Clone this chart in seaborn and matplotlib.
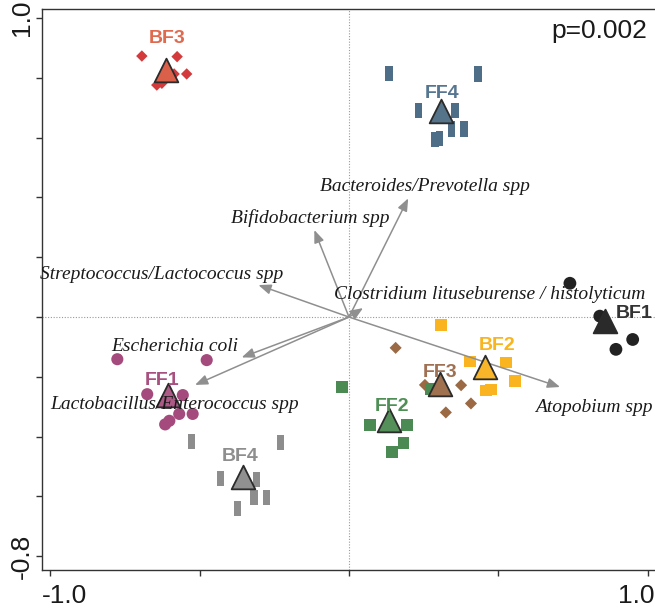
import numpy as np
import pandas as pd
import matplotlib
matplotlib.use("Agg")
import matplotlib.pyplot as plt
import matplotlib.transforms as mtransforms
import seaborn as sns

# ---------------- data ----------------
groups = ["BF3", "FF4", "BF1", "BF2", "FF3", "FF2", "FF1", "BF4"]

bf3_x = [-0.693, -0.575, -0.585, -0.543, -0.643, -0.626]
bf3_y = [0.873, 0.871, 0.813, 0.813, 0.776, 0.782]
ff4_x = [0.134, 0.432, 0.232, 0.355, 0.343, 0.385, 0.288, 0.302]
ff4_y = [0.815, 0.813, 0.692, 0.692, 0.629, 0.629, 0.595, 0.598]
bf1_x = [0.739, 0.949, 0.893, 0.839]
bf1_y = [0.113, -0.075, -0.108, 0.003]
bf2_x = [0.307, 0.405, 0.525, 0.555, 0.458, 0.475]
bf2_y = [-0.027, -0.149, -0.152, -0.213, -0.246, -0.242]
ff3_x = [0.156, 0.254, 0.375, 0.408, 0.324]
ff3_y = [-0.103, -0.227, -0.228, -0.289, -0.319]
ff2_x = [-0.023, 0.070, 0.193, 0.182, 0.143, 0.274]
ff2_y = [-0.234, -0.361, -0.361, -0.422, -0.451, -0.241]
ff1_x = [-0.775, -0.476, -0.675, -0.556, -0.568, -0.523, -0.615, -0.601]
ff1_y = [-0.141, -0.144, -0.258, -0.261, -0.324, -0.324, -0.359, -0.347]
bf4_x = [-0.526, -0.228, -0.429, -0.309, -0.318, -0.275, -0.374]
bf4_y = [-0.417, -0.420, -0.539, -0.543, -0.603, -0.603, -0.640]

# group centroids
cent_x = [-0.612, 0.308, 0.856, 0.455, 0.304, 0.135, -0.604, -0.356]
cent_y = [0.826, 0.689, -0.013, -0.166, -0.224, -0.344, -0.261, -0.534]

# group label positions
glab_x = [-0.610, 0.310, 0.955, 0.495, 0.304, 0.143, -0.626, -0.365]
glab_y = [0.933, 0.749, 0.013, -0.094, -0.186, -0.300, -0.212, -0.465]

# species arrows (tips)
species = ["Bacteroides/Prevotella spp", "Bifidobacterium spp",
           "Streptococcus/Lactococcus spp",
           "Clostridium lituseburense / histolyticum",
           "Escherichia coli", "Lactobacillus/Enterococcus spp", "Atopobium spp"]
arrow_x = [0.198, -0.116, -0.303, 0.047, -0.359, -0.515, 0.706]
arrow_y = [0.397, 0.291, 0.107, 0.030, -0.135, -0.227, -0.234]
slab_x = [0.254, -0.129, -0.627, 0.470, -0.582, -0.582, 0.819]
slab_y = [0.438, 0.331, 0.144, 0.074, -0.097, -0.294, -0.301]

p_text = "p=0.002"

# ---------------- styling ----------------
sns.set_style("white")
plt.rcParams["font.family"] = ["Liberation Sans", "DejaVu Sans"]

marker_color = {"BF3": "#d33a3b", "FF4": "#4e6e87", "BF1": "#222222", "BF2": "#f9b41f",
                "FF3": "#9b6a45", "FF2": "#4b8a52", "FF1": "#a54a7d", "BF4": "#8d8d8d"}
tri_color = {"BF3": "#da6049", "FF4": "#557489", "BF1": "#2a2a2a", "BF2": "#f8b52a",
             "FF3": "#a0714f", "FF2": "#55905a", "FF1": "#ad5a86", "BF4": "#909090"}
label_color = {"BF3": "#df6a4e", "FF4": "#557590", "BF1": "#333333", "BF2": "#f9b520",
               "FF3": "#a07052", "FF2": "#4f8f55", "FF1": "#a8507f", "BF4": "#8e8e8e"}
rect = [(-0.24, -0.5), (0.24, -0.5), (0.24, 0.5), (-0.24, 0.5), (-0.24, -0.5)]
marker_shape = {"BF3": "D", "FF4": rect, "BF1": "o", "BF2": "s",
                "FF3": "D", "FF2": "s", "FF1": "o", "BF4": rect}
marker_size = {"BF3": 34, "FF4": 120, "BF1": 85, "BF2": 72,
               "FF3": 38, "FF2": 72, "FF1": 76, "BF4": 120}

pts = {"BF3": (bf3_x, bf3_y), "FF4": (ff4_x, ff4_y), "BF1": (bf1_x, bf1_y),
       "BF2": (bf2_x, bf2_y), "FF3": (ff3_x, ff3_y), "FF2": (ff2_x, ff2_y),
       "FF1": (ff1_x, ff1_y), "BF4": (bf4_x, bf4_y)}

fig = plt.figure(figsize=(6.55, 6.10), dpi=100)
ax = fig.add_axes([42 / 655, 40 / 610, 614 / 655, 561.5 / 610])
ax.set_xlim(-1.027, 1.027)
ax.set_ylim(-0.846, 1.032)

ax.axhline(0, color="#9a9a9a", lw=0.8, ls=(0, (1, 1.5)), zorder=1)
ax.axvline(0, color="#9a9a9a", lw=0.8, ls=(0, (1, 1.5)), zorder=1)

# sample points
for g in groups:
    x, y = pts[g]
    df = pd.DataFrame({"x": x, "y": y})
    sns.scatterplot(data=df, x="x", y="y", marker=marker_shape[g], s=marker_size[g],
                    color=marker_color[g], edgecolor="none", linewidth=0, ax=ax, zorder=3)

# arrows
for sx, sy in zip(arrow_x, arrow_y):
    ax.annotate("", xy=(sx, sy), xytext=(0, 0), xycoords="data",
                arrowprops=dict(arrowstyle="-|>,head_length=0.75,head_width=0.3",
                                color="#8f8f8f", lw=1.1, shrinkA=0, shrinkB=0),
                zorder=4)

# centroids
for g, cx, cy in zip(groups, cent_x, cent_y):
    ax.scatter([cx], [cy], marker="^", s=290, color=tri_color[g],
               edgecolor="#2b2b2b", linewidth=1.3, zorder=5)

# labels
for g, lx, ly in zip(groups, glab_x, glab_y):
    ax.text(lx, ly, g, ha="center", va="center", fontsize=14, fontweight="bold",
            color=label_color[g], zorder=6)

for s, lx, ly in zip(species, slab_x, slab_y):
    ax.text(lx, ly, s, ha="center", va="center", fontsize=14, style="italic",
            family=["Liberation Serif", "DejaVu Serif"], color="#1a1a1a", zorder=6)

ax.text(0.985, 0.96, p_text, transform=ax.transAxes, ha="right", va="center",
        fontsize=19, color="#1a1a1a")

# axes & ticks
ax.set_xlabel("")
ax.set_ylabel("")
ax.set_xticks([-1.0, -0.5, 0.0, 0.5, 1.0])
ax.set_xticklabels(["-1.0", "", "", "", "1.0"])
yt = [-0.8, -0.6, -0.4, -0.2, 0.0, 0.2, 0.4, 0.6, 0.8, 1.0]
ax.set_yticks(yt)
ax.set_yticklabels(["-0.8"] + [""] * 8 + ["1.0"])
ax.tick_params(axis="both", direction="out", length=4, width=1, color="#333333",
               labelsize=19, labelcolor="#1a1a1a", left=True, bottom=True)
ax.tick_params(axis="x", pad=6)
ax.tick_params(axis="y", pad=2)
for lab in ax.get_yticklabels():
    lab.set_rotation(90)
    lab.set_va("center")

xl = ax.get_xticklabels()
xl[0].set_transform(xl[0].get_transform() + mtransforms.ScaledTranslation(14 / 100, 0, fig.dpi_scale_trans))
xl[-1].set_transform(xl[-1].get_transform() + mtransforms.ScaledTranslation(-12 / 100, 0, fig.dpi_scale_trans))

for sp in ["left", "bottom", "top"]:
    ax.spines[sp].set_color("#333333")
    ax.spines[sp].set_linewidth(1.0)
ax.spines["right"].set_visible(False)

fig.savefig("out.png", dpi=100)
